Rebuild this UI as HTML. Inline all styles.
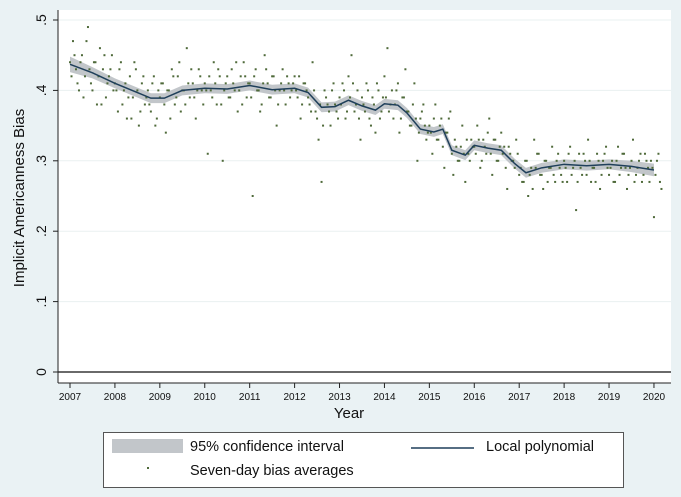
<!DOCTYPE html>
<html><head><meta charset="utf-8"><style>
body{margin:0;background:#eaf2f4;}
svg{display:block;font-family:"Liberation Sans",sans-serif;}
</style></head><body>
<svg width="681" height="497">
<rect x="0" y="0" width="681" height="497" fill="#eaf2f4"/>
<rect x="58" y="10" width="613" height="373" fill="#ffffff"/>
<g id="grid"></g><g id="band"></g><g id="dots"></g><g id="line"></g><g id="axes"></g>
<g>
<rect x="103.5" y="432.5" width="520" height="55" fill="#fff" stroke="#555"/>
<rect x="112" y="439" width="71" height="14" fill="#c2c6ca"/>
<text x="190" y="451" font-size="14.5" fill="#111">95% confidence interval</text>
<line x1="411" y1="448" x2="474" y2="448" stroke="#1f3f5a" stroke-width="1.5"/>
<text x="486" y="451" font-size="14.5" fill="#111">Local polynomial</text>
<rect x="147" y="467" width="2" height="2" fill="#4f6a3a"/>
<text x="190" y="475" font-size="14.5" fill="#111">Seven-day bias averages</text>
</g>
<text x="349" y="418" font-size="15" text-anchor="middle" fill="#111">Year</text>
<text transform="translate(24,198) rotate(-90)" font-size="15" text-anchor="middle" fill="#111">Implicit Americanness Bias</text>
</svg>
<script>
const yTicks=[0,0.1,0.2,0.3,0.4,0.5];
const yTickLabels=["0",".1",".2",".3",".4",".5"];
const xTicks=[2007,2008,2009,2010,2011,2012,2013,2014,2015,2016,2017,2018,2019,2020];
const lineYears=[2007,2007.5,2008,2008.5,2008.8,2009.1,2009.5,2010,2010.5,2011,2011.5,2012,2012.3,2012.6,2012.9,2013.2,2013.5,2013.8,2014,2014.3,2014.5,2014.8,2015.1,2015.3,2015.5,2015.8,2016,2016.3,2016.6,2016.9,2017.15,2017.5,2018,2018.5,2019,2019.5,2020];
const lineValues=[.437,.425,.41,.397,.389,.389,.400,.403,.402,.407,.401,.403,.397,.376,.377,.386,.378,.372,.381,.379,.368,.345,.341,.345,.315,.308,.322,.318,.315,.296,.283,.290,.295,.293,.295,.292,.287];
const ciHalf=[.011,.008,.007,.007,.007,.007,.007,.007,.007,.007,.007,.007,.007,.007,.007,.007,.007,.007,.007,.007,.007,.007,.007,.007,.007,.007,.007,.007,.007,.007,.007,.007,.007,.007,.007,.008,.009];
const dotStartYear=2007;
const dotsPerYear=15;
const dotValues=[
.44,.47,.43,.40,.45,.42,.49,.41,.44,.38,.46,.43,.39,.42,.45,
.41,.37,.44,.40,.36,.42,.39,.43,.35,.41,.38,.40,.37,.42,.36,
.39,.41,.34,.40,.43,.38,.42,.37,.40,.46,.39,.41,.36,.43,.40,
.41,.31,.40,.44,.38,.42,.30,.41,.39,.43,.40,.37,.42,.44,.39,
.41,.25,.43,.40,.38,.45,.41,.39,.42,.35,.40,.43,.38,.41,.40,
.42,.39,.36,.41,.40,.38,.44,.37,.33,.27,.40,.38,.35,.41,.37,
.39,.41,.36,.42,.45,.37,.40,.33,.38,.41,.36,.39,.34,.40,.37,
.42,.46,.38,.36,.40,.34,.39,.43,.37,.35,.41,.30,.36,.38,.33,
.35,.31,.38,.33,.36,.29,.34,.37,.28,.32,.30,.35,.27,.31,.33,
.32,.35,.29,.33,.31,.36,.28,.33,.30,.34,.32,.26,.31,.30,.33,
.28,.27,.30,.25,.29,.33,.31,.28,.26,.30,.29,.32,.27,.31,.28,
.30,.27,.32,.29,.23,.31,.28,.30,.33,.27,.29,.31,.26,.30,.32,
.28,.30,.27,.32,.29,.31,.26,.29,.33,.28,.30,.27,.31,.29,.30,
.22,.30,.27];
const dotValuesB=[
.42,.45,.41,.44,.39,.47,.43,.40,.44,.42,.38,.45,.41,.43,.40,
.40,.43,.38,.41,.39,.36,.44,.40,.37,.42,.39,.38,.41,.35,.40,
.41,.38,.40,.36,.42,.39,.44,.40,.38,.41,.43,.39,.40,.42,.38,
.40,.42,.39,.41,.43,.38,.40,.42,.39,.41,.44,.40,.38,.42,.41,
.39,.42,.40,.37,.41,.43,.39,.42,.40,.38,.41,.40,.42,.39,.41,
.40,.42,.38,.41,.39,.37,.40,.36,.38,.35,.39,.37,.40,.38,.36,
.38,.40,.37,.39,.41,.38,.36,.39,.37,.40,.35,.38,.41,.36,.39,
.39,.37,.40,.38,.41,.36,.39,.37,.35,.38,.36,.34,.37,.35,.34,
.34,.36,.33,.35,.32,.34,.36,.31,.33,.30,.32,.31,.33,.30,.32,
.31,.33,.30,.32,.34,.31,.33,.30,.32,.31,.29,.32,.30,.29,.31,
.29,.27,.30,.28,.26,.29,.31,.28,.30,.27,.29,.28,.30,.29,.27,
.29,.31,.28,.30,.27,.29,.31,.28,.30,.29,.27,.30,.28,.31,.29,
.29,.27,.30,.28,.31,.29,.28,.30,.27,.29,.31,.28,.30,.27,.29,
.28,.31,.26];
const NS="http://www.w3.org/2000/svg";
function X(yr){return 70+(yr-2007)*44.92;}
function Y(v){return 372-v*704;}
function mk(tag,attrs,parent){const e=document.createElementNS(NS,tag);for(const k in attrs)e.setAttribute(k,attrs[k]);document.getElementById(parent).appendChild(e);return e;}
yTicks.forEach((t,i)=>{
 if(t>0){const g=mk('line',{x1:58,x2:671,y1:Y(t),y2:Y(t),stroke:'#eaf0f1','stroke-width':1},'grid');
 
 }
 const tk=mk('line',{x1:53,x2:58,y1:Y(t),y2:Y(t),stroke:'#222'},'axes');
 
 
 const tx=mk('text',{transform:`translate(46,${Y(t)}) rotate(-90)`,'font-size':14,'text-anchor':'middle',fill:'#111'},'axes');
 tx.textContent=yTickLabels[i];
 
 
});
const zl=mk('line',{x1:58,x2:671,y1:Y(0),y2:Y(0),stroke:'#111','stroke-width':1.2},'axes');


const ya=mk('line',{x1:58,x2:58,y1:10,y2:383,stroke:'#222'},'axes');


const xa=mk('line',{x1:58,x2:671,y1:383,y2:383,stroke:'#222'},'axes');


xTicks.forEach(t=>{
 const tk=mk('line',{x1:X(t),x2:X(t),y1:383,y2:388,stroke:'#222'},'axes');
 
 
 const tx=mk('text',{x:X(t),y:400,'font-size':10,'text-anchor':'middle',fill:'#111'},'axes');
 tx.textContent=t;
 
 
});
let up=lineYears.map((yr,i)=>X(yr)+','+Y(lineValues[i]+ciHalf[i]));
let dn=lineYears.map((yr,i)=>X(yr)+','+Y(lineValues[i]-ciHalf[i])).reverse();
const band=mk('polygon',{points:up.concat(dn).join(' '),fill:'#c2c6ca'},'band');


dotValues.forEach((v,i)=>{
 const d=mk('rect',{x:X(dotStartYear+i/dotsPerYear)-1,y:Y(v)-1,width:2,height:2,fill:'#4f6a3a'},'dots');
 
 
});
dotValuesB.forEach((v,i)=>{
 const d=mk('rect',{x:X(dotStartYear+(i+0.5)/dotsPerYear)-1,y:Y(v)-1,width:2,height:2,fill:'#4f6a3a'},'dots');
 
 
});
const pl=mk('polyline',{points:lineYears.map((yr,i)=>X(yr)+','+Y(lineValues[i])).join(' '),fill:'none',stroke:'#1f3f5a','stroke-width':1.5},'line');


</script>
</body></html>
